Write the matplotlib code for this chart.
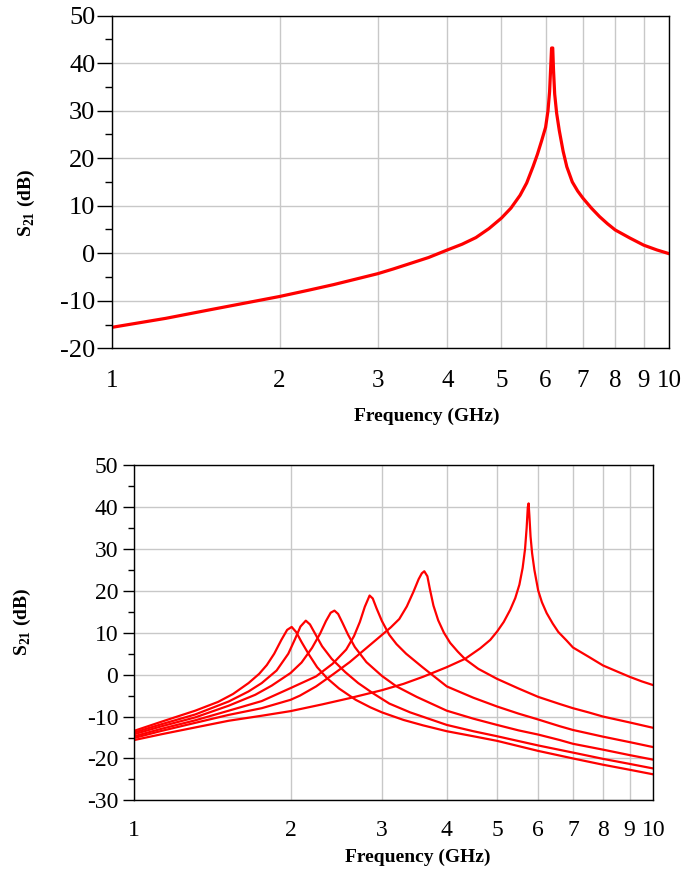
import matplotlib
matplotlib.use("Agg")
import matplotlib.pyplot as plt
from matplotlib.ticker import FixedLocator, FixedFormatter, MultipleLocator, NullFormatter

plt.rcParams["font.family"] = ["Liberation Serif", "DejaVu Serif"]
plt.rcParams["mathtext.fontset"] = "custom"
plt.rcParams["mathtext.rm"] = "Liberation Serif"
plt.rcParams["mathtext.bf"] = "Liberation Serif:bold"

# --- top panel: single resonance ---
top_freq = [1.0, 1.25, 1.5, 1.75, 2.0, 2.25, 2.5, 2.75, 3.0, 3.2, 3.4, 3.7, 4.0, 4.25,
            4.5, 4.75, 5.0, 5.2, 5.4, 5.55, 5.7, 5.8, 5.9, 6.0, 6.06, 6.1, 6.13, 6.15,
            6.18, 6.2, 6.23, 6.28, 6.35, 6.45, 6.55, 6.7, 6.85, 7.0, 7.25, 7.5, 7.75,
            8.0, 8.5, 9.0, 9.5, 10.0]
top_db = [-15.6, -13.7, -11.9, -10.4, -9.1, -7.8, -6.6, -5.4, -4.3, -3.3, -2.3, -0.9, 0.7, 1.9,
          3.3, 5.2, 7.4, 9.5, 12.2, 14.8, 18.3, 20.8, 23.6, 26.5, 30.0, 34.0, 39.5, 43.2,
          43.2, 38.5, 33.5, 29.5, 25.8, 21.5, 18.2, 15.0, 13.1, 11.6, 9.5, 7.7, 6.2,
          4.9, 3.2, 1.7, 0.7, -0.1]

# --- bottom panel: six tuned resonances ---
c1_freq = [1.0, 1.13, 1.31, 1.45, 1.55, 1.66, 1.74, 1.8, 1.86, 1.92, 1.97, 2.01, 2.05,
           2.1, 2.17, 2.25, 2.35, 2.48, 2.67, 2.85, 3.0, 3.3, 3.6, 4.0, 4.5, 5.0, 6.0,
           7.0, 8.0, 9.0, 10.0]
c1_db = [-13.4, -11.2, -8.6, -6.5, -4.6, -2.0, 0.2, 2.3, 5.0, 8.3, 10.7, 11.4, 10.2,
         7.8, 4.8, 1.8, -0.8, -3.3, -6.0, -7.8, -9.0, -10.8, -12.1, -13.5, -14.7, -15.8, -18.2,
         -20.0, -21.5, -22.7, -23.8]

c2_freq = [1.0, 1.13, 1.31, 1.52, 1.66, 1.76, 1.88, 1.98, 2.04, 2.09, 2.14, 2.18, 2.23,
           2.3, 2.4, 2.55, 2.7, 2.88, 3.1, 3.4, 4.0, 4.5, 5.0, 6.0, 7.0, 8.0, 9.0, 10.0]
c2_db = [-13.8, -11.8, -9.5, -6.4, -4.0, -2.0, 1.0, 5.0, 8.5, 11.5, 12.9, 12.0, 9.8,
         6.8, 3.8, 0.6, -2.0, -4.4, -6.9, -9.0, -12.0, -13.5, -14.7, -16.9, -18.6, -20.1, -21.3,
         -22.4]

c3_freq = [1.0, 1.13, 1.31, 1.52, 1.71, 1.84, 2.0, 2.1, 2.2, 2.28, 2.34, 2.39, 2.43,
           2.47, 2.52, 2.58, 2.66, 2.8, 3.0, 3.2, 3.5, 4.0, 4.5, 5.0, 5.5, 6.0, 6.6, 7.0,
           8.0, 9.0, 10.0]
c3_db = [-14.2, -12.3, -10.2, -7.4, -4.8, -2.6, 0.4, 2.9, 6.4, 9.8, 12.8, 14.8, 15.3,
         14.5, 12.3, 9.6, 6.6, 3.0, -0.3, -2.8, -5.3, -8.6, -10.5, -12.0, -13.3, -14.3, -15.6,
         -16.5, -17.9, -19.2, -20.3]

c4_freq = [1.0, 1.13, 1.31, 1.52, 1.76, 2.0, 2.24, 2.41, 2.56, 2.65, 2.72, 2.78, 2.84,
           2.88, 2.93, 3.0, 3.1, 3.2, 3.34, 3.59, 4.0, 4.5, 5.0, 5.5, 6.0, 6.6, 7.0, 8.0,
           9.0, 10.0]
c4_db = [-14.7, -12.9, -10.9, -8.6, -6.3, -3.2, -0.4, 2.6, 6.0, 9.2, 12.6, 16.2, 18.9,
         18.2, 15.8, 12.8, 9.5, 7.3, 5.0, 1.8, -2.8, -5.5, -7.6, -9.3, -10.7, -12.3, -13.2,
         -14.8, -16.1, -17.3]

c5_freq = [1.0, 1.13, 1.31, 1.52, 1.76, 2.0, 2.085, 2.24, 2.41, 2.6, 2.79, 3.0, 3.12,
           3.24, 3.35, 3.45, 3.53, 3.58, 3.62, 3.67, 3.71, 3.77, 3.85, 3.95, 4.06, 4.2,
           4.34, 4.6, 5.0, 5.5, 6.0, 6.6, 7.0, 7.5, 8.0, 9.0, 10.0]
c5_db = [-15.1, -13.4, -11.5, -9.6, -8.0, -6.0, -5.0, -2.8, 0.0, 3.0, 6.2, 9.5, 11.3,
         13.3, 16.3, 19.8, 22.8, 24.2, 24.7, 23.5, 20.5, 16.5, 13.0, 10.0, 7.6, 5.5,
         3.7, 1.4, -1.0, -3.3, -5.3, -7.0, -8.0, -9.0, -10.0, -11.4, -12.7]

c6_freq = [1.0, 1.13, 1.31, 1.52, 1.76, 2.0, 2.3, 2.6, 3.0, 3.3, 3.6, 4.0, 4.34, 4.64,
           4.85, 5.0, 5.15, 5.3, 5.42, 5.52, 5.6, 5.66, 5.7, 5.73, 5.75, 5.77, 5.8, 5.84,
           5.9, 6.0, 6.1, 6.23, 6.4, 6.56, 6.8, 7.0, 7.5, 8.0, 8.5, 9.0, 9.5, 10.0]
c6_db = [-15.6, -14.2, -12.6, -11.0, -9.8, -8.7, -7.1, -5.6, -3.7, -2.2, -0.5, 1.8, 3.8, 6.3,
         8.3, 10.3, 12.6, 15.5, 18.3, 21.5, 25.5, 30.0, 35.0, 40.0, 40.9, 38.0, 33.0, 29.0,
         25.0, 20.1, 17.3, 14.7, 12.2, 10.2, 8.2, 6.5, 4.3, 2.2, 0.8, -0.5, -1.6, -2.5]

x_ticks = [1, 2, 3, 4, 5, 6, 7, 8, 9, 10]
x_labels = ["1", "2", "3", "4", "5", "6", "7", "8", "9", "10"]

RED = "#ff0000"
GRID = "#c8c8c8"


def style_axes(ax, ymin, ymax, ytick_len, ymin_len, ypad, xlab_size, ylab_size, xpad):
    ax.set_xscale("log")
    ax.set_xlim(1, 10)
    ax.set_ylim(ymin, ymax)

    ax.xaxis.set_major_locator(FixedLocator(x_ticks))
    ax.xaxis.set_major_formatter(FixedFormatter(x_labels))
    ax.xaxis.set_minor_locator(FixedLocator([1, 10]))
    ax.xaxis.set_minor_formatter(NullFormatter())
    ax.tick_params(axis="x", which="major", length=0, pad=xpad, labelsize=xlab_size)
    ax.tick_params(axis="x", which="minor", length=ytick_len, width=1, direction="out")

    ax.yaxis.set_major_locator(MultipleLocator(10))
    ax.yaxis.set_minor_locator(MultipleLocator(5))
    ax.yaxis.set_major_formatter(plt.FuncFormatter(lambda v, p: "%d" % v))
    ax.tick_params(axis="y", which="major", length=ytick_len, width=1, pad=ypad,
                   labelsize=ylab_size, direction="out")
    ax.tick_params(axis="y", which="minor", length=ymin_len, width=1, direction="out")

    ax.grid(True, which="major", color=GRID, linewidth=1.0)
    ax.set_axisbelow(True)
    for sp in ax.spines.values():
        sp.set_color("black")
        sp.set_linewidth(1.0)


fig = plt.figure(figsize=(6.87, 8.72), dpi=100)

ax1 = fig.add_axes([0.1626, 0.6006, 0.8116, 0.3814])
ax1.plot(top_freq, top_db, color=RED, linewidth=2.3)
style_axes(ax1, -20, 50, 10.8, 5.0, 1.0, 18, 19, 16)

ax2 = fig.add_axes([0.1955, 0.0822, 0.7555, 0.3842])
for fr, db in [(c1_freq, c1_db), (c2_freq, c2_db), (c3_freq, c3_db),
               (c4_freq, c4_db), (c5_freq, c5_db), (c6_freq, c6_db)]:
    ax2.plot(fr, db, color=RED, linewidth=1.6)
style_axes(ax2, -30, 50, 7.9, 4.3, 3.6, 17, 17, 14)

ylabel = r"$\mathbf{S}_{\mathbf{21}}$ (dB)"
fig.text(0.038, 0.767, ylabel, rotation=90, ha="center", va="center",
         fontsize=14, fontweight="bold")
fig.text(0.032, 0.287, ylabel, rotation=90, ha="center", va="center",
         fontsize=14, fontweight="bold")
fig.text(0.6215, 0.523, "Frequency (GHz)", ha="center", va="center",
         fontsize=14, fontweight="bold")
fig.text(0.608, 0.017, "Frequency (GHz)", ha="center", va="center",
         fontsize=14, fontweight="bold")

fig.savefig("out.png", dpi=100)
